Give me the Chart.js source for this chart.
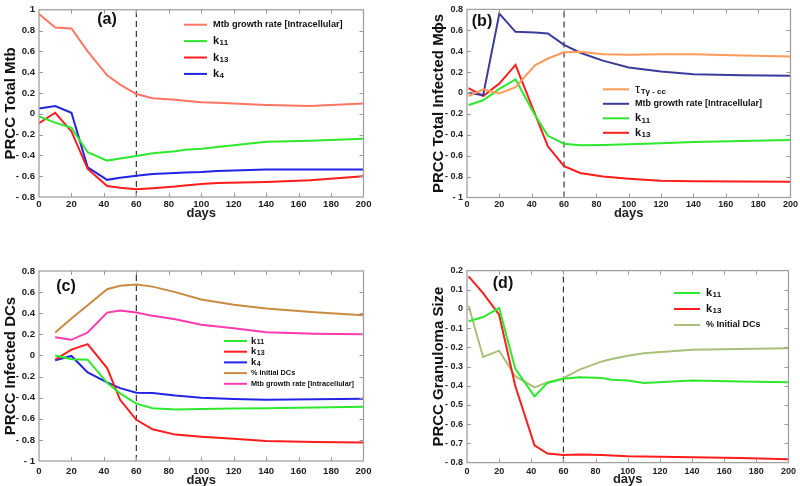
<!DOCTYPE html>
<html><head><meta charset="utf-8">
<script src="https://cdn.jsdelivr.net/npm/chart.js@4/dist/chart.umd.min.js"></script>
<style>
html,body{margin:0;padding:0;background:#fff;}
#wrap{position:relative;width:800px;height:486px;overflow:hidden;background:#fff;}
#wrap canvas{position:absolute;left:0;top:0;}
</style></head>
<body><div id="wrap">
<canvas id="ca" width="800" height="486"></canvas>
<canvas id="cb" width="800" height="486"></canvas>
<canvas id="cc" width="800" height="486"></canvas>
<canvas id="cd" width="800" height="486"></canvas>
</div>
<script>
const FONT = '"Liberation Sans", Arial, Helvetica, sans-serif';

// ---------- shared ----------
const xTickValues = [0,20,40,60,80,100,120,140,160,180,200];
const cutoffDay = 60;

// ---------- panel (a) ----------
const daysA   = [0,10,20,30,42,50,60,70,84,90,100,110,140,167,200];
const mtbA    = [0.96,0.83,0.82,0.60,0.37,0.28,0.19,0.15,0.135,0.125,0.11,0.105,0.085,0.075,0.10];
const k11A    = [-0.025,-0.085,-0.135,-0.37,-0.45,-0.43,-0.405,-0.38,-0.36,-0.345,-0.335,-0.32,-0.27,-0.26,-0.24];
const k13A    = [-0.09,0.01,-0.17,-0.53,-0.695,-0.71,-0.725,-0.715,-0.70,-0.69,-0.675,-0.665,-0.655,-0.64,-0.60];
const k4A     = [0.05,0.075,0.01,-0.515,-0.635,-0.615,-0.595,-0.58,-0.57,-0.565,-0.56,-0.55,-0.535,-0.535,-0.535];
const yTicksA = [-0.8,-0.6,-0.4,-0.2,0,0.2,0.4,0.6,0.8,1];

// ---------- panel (b) ----------
const daysB   = [1,10,20,30,42,50,60,70,84,100,120,140,170,200];
const tauB    = [-0.03,0.035,-0.005,0.055,0.265,0.33,0.39,0.395,0.37,0.365,0.37,0.37,0.36,0.35];
const mtbB    = [0.0,-0.02,0.76,0.585,0.58,0.57,0.46,0.385,0.31,0.245,0.205,0.18,0.17,0.165];
const k11B    = [-0.115,-0.07,0.04,0.13,-0.21,-0.41,-0.485,-0.5,-0.497,-0.49,-0.48,-0.47,-0.46,-0.45];
const k13B    = [0.047,-0.03,0.09,0.27,-0.2,-0.51,-0.70,-0.765,-0.80,-0.82,-0.84,-0.845,-0.847,-0.85];
const yTicksB = [-1,-0.8,-0.6,-0.4,-0.2,0,0.2,0.4,0.6,0.8];

// ---------- panel (c) ----------
const daysC    = [10,20,30,42,50,60,70,84,100,120,140,170,200];
const k11C     = [0,-0.035,-0.04,-0.26,-0.36,-0.457,-0.5,-0.513,-0.507,-0.503,-0.5,-0.493,-0.485];
const k13C     = [-0.04,0.055,0.107,-0.12,-0.42,-0.61,-0.70,-0.75,-0.77,-0.79,-0.81,-0.82,-0.825];
const k4C      = [-0.047,-0.005,-0.16,-0.255,-0.31,-0.353,-0.356,-0.38,-0.40,-0.413,-0.42,-0.416,-0.41];
const initDCsC = [0.217,0.35,0.475,0.627,0.66,0.672,0.652,0.60,0.53,0.48,0.445,0.41,0.38];
const mtbC     = [0.173,0.148,0.217,0.406,0.425,0.406,0.375,0.343,0.29,0.258,0.22,0.205,0.2];
const yTicksC  = [-1,-0.8,-0.6,-0.4,-0.2,0,0.2,0.4,0.6,0.8];

// ---------- panel (d) ----------
const daysD    = [1,10,20,30,42,50,60,70,84,90,100,110,140,170,200];
const k11D     = [-0.064,-0.042,0.005,-0.31,-0.455,-0.385,-0.363,-0.356,-0.36,-0.368,-0.372,-0.385,-0.373,-0.377,-0.382];
const k13D     = [0.17,0.083,-0.03,-0.40,-0.71,-0.753,-0.76,-0.758,-0.76,-0.763,-0.767,-0.768,-0.772,-0.776,-0.782];
const initDCsD = [0.017,-0.25,-0.217,-0.35,-0.408,-0.382,-0.36,-0.316,-0.273,-0.26,-0.243,-0.23,-0.212,-0.208,-0.205];
const yTicksD  = [-0.8,-0.7,-0.6,-0.5,-0.4,-0.3,-0.2,-0.1,0,0.1,0.2];

// ---------- helpers ----------
function pts(days, vals){ return days.map((d,i)=>({x:d,y:vals[i]})); }
function fmt(v){
  if (Math.abs(v) < 1e-9) return '0';
  const a = Math.abs(v);
  const s = Number.isInteger(Math.round(a*1e6)/1e6) ? String(Math.round(a)) : a.toFixed(1);
  return v < 0 ? '- ' + s : s;
}

const framePlugin = {
  id: 'frame',
  afterDatasetsDraw(chart){
    const {ctx, chartArea:a, scales} = chart;
    ctx.save();
    ctx.strokeStyle = '#9a9a9a';
    ctx.lineWidth = 1;
    ctx.beginPath();
    // inward ticks
    scales.y.ticks.forEach(t=>{
      const y = Math.round(scales.y.getPixelForValue(t.value)) + 0.5;
      if (y < a.top + 2 || y > a.bottom - 2) return;
      ctx.moveTo(a.left, y); ctx.lineTo(a.left + 4, y);
      ctx.moveTo(a.right, y); ctx.lineTo(a.right - 4, y);
    });
    scales.x.ticks.forEach(t=>{
      const x = Math.round(scales.x.getPixelForValue(t.value)) + 0.5;
      if (x < a.left + 2 || x > a.right - 2) return;
      ctx.moveTo(x, a.bottom); ctx.lineTo(x, a.bottom - 4);
      ctx.moveTo(x, a.top); ctx.lineTo(x, a.top + 4);
    });
    ctx.stroke();
    ctx.strokeStyle = '#a0a0a0';
    ctx.lineWidth = 1.3;
    ctx.strokeRect(a.left, a.top, a.right - a.left, a.bottom - a.top);
    ctx.restore();
  },
  afterDraw(chart){
    const o = chart.options.plugins.frame;
    const ctx = chart.ctx;
    ctx.save();
    // panel label
    ctx.fillStyle = '#111';
    ctx.font = 'bold 16px ' + FONT;
    ctx.textAlign = 'center';
    ctx.textBaseline = 'middle';
    ctx.fillText(o.panel.text, o.panel.x, o.panel.y);
    // legend
    const lg = o.legend;
    ctx.textAlign = 'left';
    let row = 0;
    chart.data.datasets.forEach(ds=>{
      if (ds.noLegend) return;
      const y = lg.y0 + row * lg.dy;
      ctx.strokeStyle = ds.borderColor;
      ctx.lineWidth = 2;
      ctx.beginPath();
      ctx.moveTo(lg.x0, y); ctx.lineTo(lg.x1, y);
      ctx.stroke();
      ctx.fillStyle = '#111';
      const txt = ds.label;
      const i = txt.indexOf('_');
      if (i < 0) {
        ctx.font = 'bold ' + lg.size + 'px ' + FONT;
        ctx.fillText(txt, lg.tx, y);
      } else {
        const main = txt.slice(0, i), sub = txt.slice(i + 1);
        const tau = main === 'τ';
        ctx.font = (tau ? '' : 'bold ') + (tau ? lg.mainSize + 2 : lg.mainSize) + 'px ' + FONT;
        ctx.fillText(main, lg.tx, y);
        const w = ctx.measureText(main).width;
        ctx.font = 'bold ' + lg.subSize + 'px ' + FONT;
        ctx.fillText(sub, lg.tx + w + 0.5, y + lg.subShift);
      }
      row++;
    });
    ctx.restore();
  }
};

function makePanel(id, p){
  const datasets = p.series.map(s=>({
    label: s.label, data: pts(p.days, s.values), borderColor: s.color,
    borderWidth: 2, pointRadius: 0, tension: 0, fill: false
  }));
  datasets.push({
    label: 'cutoff', noLegend: true,
    data: [{x:cutoffDay, y:p.yTicks[0]}, {x:cutoffDay, y:p.yTicks[p.yTicks.length-1]}],
    borderColor: '#333', borderWidth: 1.2, borderDash: [6,4], pointRadius: 0
  });
  const a = p.area;
  new Chart(document.getElementById(id), {
    type: 'line',
    data: { datasets },
    plugins: [framePlugin],
    options: {
      responsive: false, animation: false, events: [],
      layout: { autoPadding: false,
        padding: { left: a.l - p.W, top: a.t, right: 800 - a.r, bottom: 486 - a.b - p.H } },
      plugins: { legend: {display:false}, tooltip: {enabled:false},
        frame: { panel: p.panel, legend: p.legend } },
      scales: {
        x: { type: 'linear', min: 0, max: 200,
          afterBuildTicks: s => { s.ticks = xTickValues.map(v=>({value:v})); },
          afterFit: s => { s.height = p.H; },
          grid: { display: false, drawTicks: false }, border: { display: false },
          ticks: { autoSkip: false, maxRotation: 0, padding: p.xPad, color: '#222',
                   font: { family: FONT, size: p.tickSize, weight: 'bold' }, callback: v => String(v) },
          title: { display: true, text: 'days', color: '#222',
                   font: { family: FONT, size: 13, weight: 'bold' }, padding: { top: 0, bottom: 0 } } },
        y: { type: 'linear', min: p.yTicks[0], max: p.yTicks[p.yTicks.length-1],
          afterBuildTicks: s => { s.ticks = p.yTicks.map(v=>({value:v})); },
          afterFit: s => { s.width = p.W; },
          grid: { display: false, drawTicks: false }, border: { display: false },
          ticks: { autoSkip: false, padding: 4, color: '#222',
                   font: { family: FONT, size: p.tickSize, weight: 'bold' }, callback: v => fmt(v) },
          title: { display: true, text: p.yTitle, color: '#111',
                   font: { family: FONT, size: 15, weight: 'bold' }, padding: { top: p.yTitlePad, bottom: 0 } } }
      }
    }
  });
}

makePanel('ca', {
  area: {l:39, t:6.5, r:363.5, b:197}, W: 39, H: 24, xPad: 2, tickSize: 9.6, yTitlePad: 2,
  days: daysA, yTicks: yTicksA, yTitle: 'PRCC Total Mtb',
  panel: {text:'(a)', x:107, y:20},
  legend: {x0:184, x1:207, tx:213, y0:24.7, dy:16.4, size:9.2, mainSize:11, subSize:8, subShift:2},
  series: [
    {label:'Mtb growth rate [Intracellular]', values: mtbA, color:'#ff7563'},
    {label:'k_11', values: k11A, color:'#2ee82e'},
    {label:'k_13', values: k13A, color:'#ff1c1c'},
    {label:'k_4', values: k4A, color:'#2323e6'}
  ]
});

makePanel('cb', {
  area: {l:467, t:5.5, r:792.3, b:197.5}, W: 37, H: 24, xPad: 2, tickSize: 9, yTitlePad: 0,
  days: daysB, yTicks: yTicksB, yTitle: 'PRCC Total Infected Mϕs',
  panel: {text:'(b)', x:482, y:22},
  legend: {x0:603, x1:629, tx:635, y0:89.3, dy:14.5, size:9, mainSize:11, subSize:8, subShift:2},
  series: [
    {label:'τ_Tγ - cc', values: tauB, color:'#ff9a58'},
    {label:'Mtb growth rate [Intracellular]', values: mtbB, color:'#3b3b9c'},
    {label:'k_11', values: k11B, color:'#2ee82e'},
    {label:'k_13', values: k13B, color:'#ff1c1c'}
  ]
});

makePanel('cc', {
  area: {l:39, t:271, r:363.5, b:461}, W: 39, H: 27, xPad: 5, tickSize: 9.6, yTitlePad: 2,
  days: daysC, yTicks: yTicksC, yTitle: 'PRCC Infected DCs',
  panel: {text:'(c)', x:66, y:287},
  legend: {x0:224, x1:247, tx:251, y0:341, dy:10.7, size:7.3, mainSize:9.5, subSize:7, subShift:1.5},
  series: [
    {label:'k_11', values: k11C, color:'#2ee82e'},
    {label:'k_13', values: k13C, color:'#ff1c1c'},
    {label:'k_4', values: k4C, color:'#2323e6'},
    {label:'% Initial DCs', values: initDCsC, color:'#c98a42'},
    {label:'Mtb growth rate [Intracellular]', values: mtbC, color:'#ff3aae'}
  ]
});

makePanel('cd', {
  area: {l:467, t:270.6, r:792.3, b:462.6}, W: 37, H: 25, xPad: 4, tickSize: 9, yTitlePad: 0,
  days: daysD, yTicks: yTicksD, yTitle: 'PRCC Granuloma Size',
  panel: {text:'(d)', x:503, y:284},
  legend: {x0:674, x1:700, tx:706, y0:293, dy:16, size:9, mainSize:11, subSize:8, subShift:2},
  series: [
    {label:'k_11', values: k11D, color:'#2ee82e'},
    {label:'k_13', values: k13D, color:'#ff1c1c'},
    {label:'% Initial DCs', values: initDCsD, color:'#a9bf7a'}
  ]
});
</script>
</body></html>
